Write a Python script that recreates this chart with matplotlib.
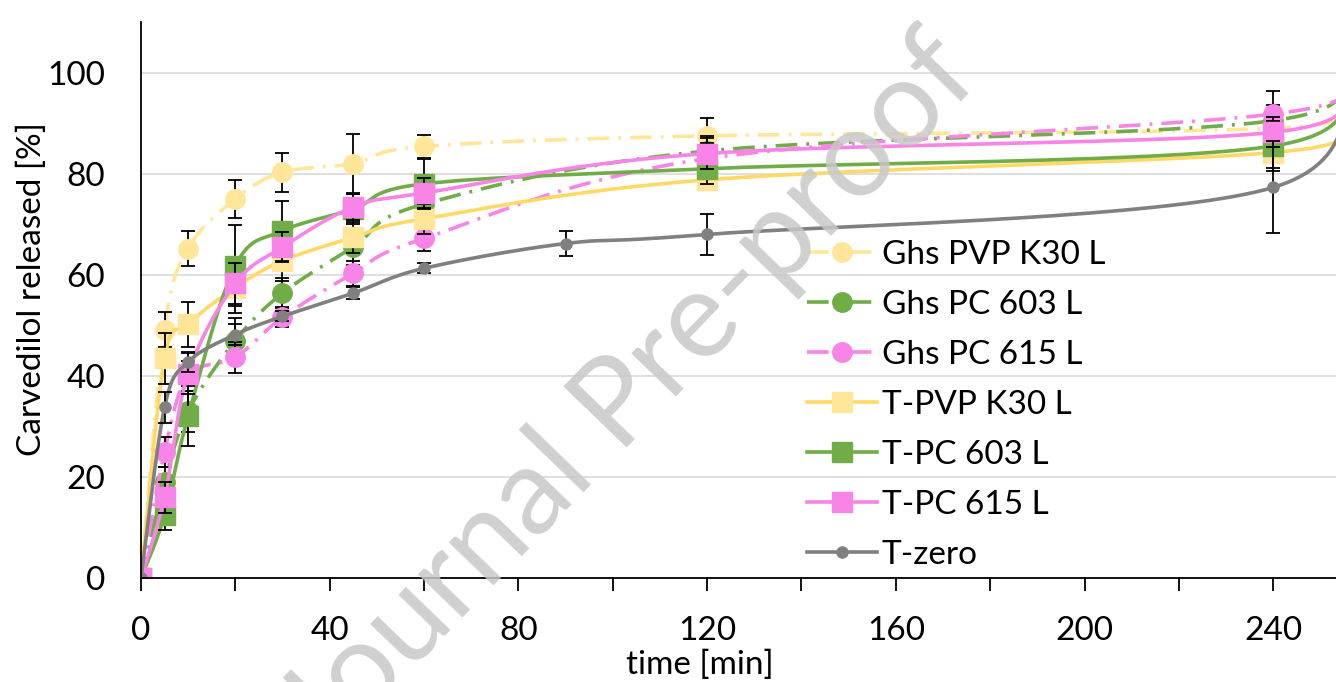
import numpy as np
import matplotlib
matplotlib.use('Agg')
import matplotlib.pyplot as plt
from matplotlib.lines import Line2D
from matplotlib.ticker import MultipleLocator

plt.rcParams['font.family'] = ['Lato', 'DejaVu Sans']

# sampling times [min]
x_ghs = [0, 5, 10, 20, 30, 45, 60, 120, 240]
x_zero = [0, 5, 10, 20, 30, 45, 60, 90, 120, 240]
# last (hidden) time point, lies just outside the visible axis
x_end = 255

ghs_pvp = [0, 49.2, 65.2, 75.0, 80.3, 82.0, 85.4, 87.5, 89.0]
ghs_pvp_err = [0, 3.5, 3.5, 3.8, 3.9, 5.9, 2.3, 3.5, 2.5]
ghs_603 = [0, 19.0, 33.0, 47.0, 56.4, 65.5, 74.0, 84.5, 90.5]
ghs_603_err = [0, 3.0, 4.0, 4.5, 3.0, 3.5, 3.0, 3.0, 3.0]
ghs_615 = [0, 25.0, 40.0, 43.7, 51.6, 60.3, 67.2, 83.0, 91.8]
ghs_615_err = [0, 3.0, 3.0, 3.0, 2.0, 2.5, 2.5, 3.0, 4.6]
t_pvp = [0, 43.5, 50.2, 57.5, 62.8, 67.4, 71.1, 78.8, 84.2]
t_pvp_err = [0, 5.0, 4.5, 5.0, 4.0, 3.0, 3.0, 2.0, 3.0]
t_603 = [0, 12.5, 32.1, 61.8, 68.7, 73.0, 78.0, 81.0, 85.5]
t_603_err = [0, 3.0, 6.0, 8.0, 6.0, 3.0, 5.0, 3.0, 5.0]
t_615 = [0, 16.0, 40.5, 58.3, 65.5, 73.4, 76.2, 84.0, 88.2]
t_615_err = [0, 3.0, 4.0, 4.0, 3.0, 2.5, 3.0, 3.0, 3.0]
t_zero = [0, 33.8, 42.8, 48.2, 51.8, 56.4, 61.3, 66.2, 68.0, 77.3]
t_zero_err = [0, 3.0, 2.0, 2.0, 1.0, 1.2, 1.0, 2.5, 4.0, 9.1]

# values at the hidden last point
end_vals = {'Ghs PVP K30 L': 93.6, 'Ghs PC 603 L': 102.0, 'Ghs PC 615 L': 98.5,
            'T-PVP K30 L': 89.8, 'T-PC 603 L': 100.8, 'T-PC 615 L': 98.0,
            'T-zero': 106.0}


def smooth(x, y, n=40):
    # excel like smoothed line (bezier through the points)
    p = np.column_stack([x, y]).astype(float)
    out = []
    for i in range(len(p) - 1):
        p0 = p[i - 1] if i > 0 else p[i]
        p1 = p[i]
        p2 = p[i + 1]
        p3 = p[i + 2] if i + 2 < len(p) else p[i + 1]
        c1 = p1 + (p2 - p0) / 6
        c2 = p2 - (p3 - p1) / 6
        t = np.linspace(0, 1, n)[:, None]
        seg = ((1 - t) ** 3) * p1 + 3 * ((1 - t) ** 2) * t * c1 + 3 * (1 - t) * t ** 2 * c2 + t ** 3 * p2
        out.append(seg)
    out = np.vstack(out)
    return out[:, 0], out[:, 1]


yellow_l = '#FFE699'
yellow = '#FFD966'
green = '#70AD47'
pink = '#F784E6'
gray = '#808080'
dashdot = (0, (6, 2.5, 0.8, 2.5))

series = [
    ('Ghs PVP K30 L', x_ghs, ghs_pvp, ghs_pvp_err, yellow_l, yellow_l, 'o', 14, dashdot),
    ('Ghs PC 603 L', x_ghs, ghs_603, ghs_603_err, green, green, 'o', 14, dashdot),
    ('Ghs PC 615 L', x_ghs, ghs_615, ghs_615_err, pink, pink, 'o', 14, dashdot),
    ('T-PVP K30 L', x_ghs, t_pvp, t_pvp_err, yellow, yellow_l, 's', 14, '-'),
    ('T-PC 603 L', x_ghs, t_603, t_603_err, green, green, 's', 14, '-'),
    ('T-PC 615 L', x_ghs, t_615, t_615_err, pink, pink, 's', 14, '-'),
    ('T-zero', x_zero, t_zero, t_zero_err, gray, gray, 'o', 8, '-'),
]

fig = plt.figure(figsize=(13.36, 6.82), dpi=100)
ax = fig.add_axes([0.1055, 0.152, 0.8945, 0.8157])

handles = []
for k, (name, xs, ys, err, lc, mc, mk, ms, ls) in enumerate(series):
    z = 3 + k
    sx, sy = smooth(list(xs) + [x_end], list(ys) + [end_vals[name]])
    ax.plot(sx, sy, color=lc, lw=2.6, ls=ls, zorder=z)
    ax.errorbar(xs, ys, yerr=err, fmt='none', ecolor='black', elinewidth=1.3,
                capsize=5, capthick=1.3, zorder=z)
    ax.plot(xs, ys, ls='none', marker=mk, ms=ms, mfc=mc, mec=mc, zorder=z)
    handles.append(Line2D([], [], color=lc, lw=2.6, ls=ls, marker=mk, ms=ms,
                          mfc=mc, mec=mc, label=name))

ax.set_xlim(0, 253.3)
ax.set_ylim(0, 110)
ax.xaxis.set_major_locator(MultipleLocator(40))
ax.xaxis.set_minor_locator(MultipleLocator(20))
ax.yaxis.set_major_locator(MultipleLocator(20))
ax.tick_params(axis='x', which='both', direction='out', length=9, width=1.3, labelsize=24, pad=18)
ax.tick_params(axis='y', which='both', length=0, labelsize=24, pad=26)
ax.grid(axis='y', color='#d9d9d9', lw=1.2)
ax.set_axisbelow(True)
for s in ['top', 'right']:
    ax.spines[s].set_visible(False)
for s in ['left', 'bottom']:
    ax.spines[s].set_linewidth(1.3)
    ax.spines[s].set_zorder(20)

ax.set_ylabel('Carvedilol released [%]', fontsize=24)
ax.yaxis.set_label_coords(-0.079, 0.52)
ax.set_xlabel('time [min]', fontsize=24)
ax.xaxis.set_label_coords(0.468, -0.128)

fig.legend(handles=handles, loc='upper left', bbox_to_anchor=(0.594, 0.668),
           frameon=False, fontsize=24, handlelength=2.1, handletextpad=0.15,
           labelspacing=0.6, borderaxespad=0)

# watermark
fig.text(0.49, 0.385, 'Journal Pre-proof', fontsize=88, color='#c8c8c8', alpha=0.85,
         rotation=46, rotation_mode='anchor', ha='center', va='baseline', zorder=50)

fig.savefig('out.png', dpi=100)
